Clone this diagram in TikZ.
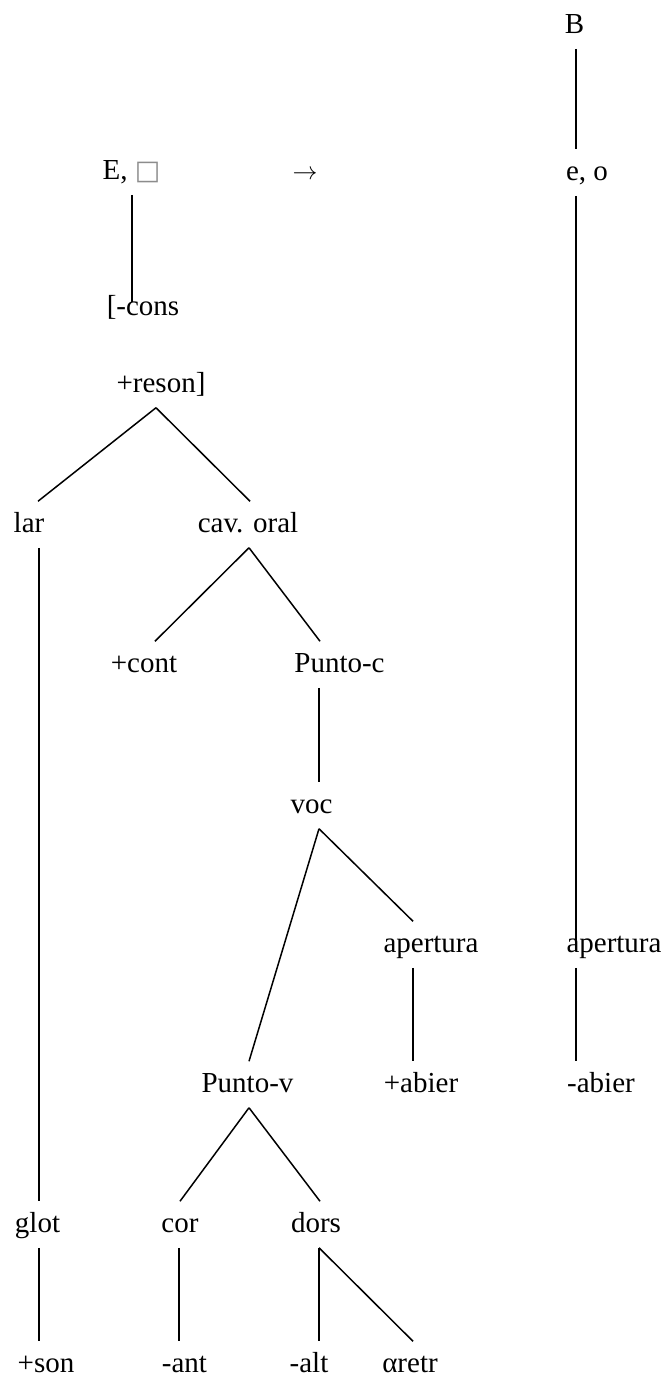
\documentclass[tikz,border=0pt]{standalone}
\usepackage{fontspec}
\setmainfont{Liberation Serif}
\newfontfamily\symfont{DejaVu Sans}

\begin{document}
\begin{tikzpicture}[x=1pt, y=-1pt, font=\fontsize{29}{34}\selectfont, line width=1.5pt,
  feat/.style={anchor=base, inner sep=0pt, text height=30pt, text depth=15pt}]
\useasboundingbox (0,0) rectangle (668,1377);

\node[feat] (B) at (574.5, 33) {B};
\node[feat] (EX) at (131.5, 179) {E, {\symfont\fontsize{27}{30}\selectfont\color{black!45}□}};
\node[feat] (AR) at (305, 179) {$\rightarrow$};
\node[feat] (EO) at (587, 180) {e, o};
\node[feat] (CO) at (143, 315) {[-cons};
\node[feat] (RE) at (161, 392) {+reson]};
\node[feat] (LA) at (29, 532) {lar};
\node[feat] (CV) at (248, 532) {cav. oral};
\node[feat] (CT) at (144, 672) {+cont};
\node[feat] (PC) at (339.5, 672) {Punto-c};
\node[feat] (VC) at (311.5, 813) {voc};
\node[feat] (AP) at (431, 952) {apertura};
\node[feat] (AQ) at (614, 952) {apertura};
\node[feat] (PV) at (247.5, 1092) {Punto-v};
\node[feat] (AB) at (421, 1092) {+abier};
\node[feat] (AC) at (601, 1092) {-abier};
\node[feat] (GL) at (37.5, 1232) {glot};
\node[feat] (CR) at (180, 1232) {cor};
\node[feat] (DR) at (316, 1232) {dors};
\node[feat] (SN) at (46, 1372) {+son};
\node[feat] (AN) at (184.5, 1372) {-ant};
\node[feat] (AL) at (309, 1372) {-alt};
\node[feat] (RT) at (410, 1372) {αretr};

\draw ([xshift=1.5pt]B.south) -- ([xshift=-11pt]EO.north);
\draw ([xshift=-11pt]EO.south) -- ([xshift=-38pt,yshift=12pt]AQ.base);
\draw ([xshift=-38pt]AQ.south) -- ([xshift=-25pt]AC.north);
\draw ([xshift=0.5pt]EX.south) -- ([xshift=-11pt,yshift=13pt]CO.base);
\draw ([xshift=-5pt]RE.south) -- ([xshift=9pt]LA.north);
\draw ([xshift=-5pt]RE.south) -- ([xshift=2pt]CV.north);
\draw ([xshift=10pt]LA.south) -- ([xshift=1.5pt]GL.north);
\draw ([xshift=1pt]CV.south) -- ([xshift=11pt]CT.north);
\draw ([xshift=1pt]CV.south) -- ([xshift=-19.5pt]PC.north);
\draw ([xshift=-20.5pt]PC.south) -- ([xshift=7.5pt]VC.north);
\draw ([xshift=7.5pt]VC.south) -- ([xshift=1.5pt]PV.north);
\draw ([xshift=7.5pt]VC.south) -- ([xshift=-18pt]AP.north);
\draw ([xshift=-18pt]AP.south) -- ([xshift=-8pt]AB.north);
\draw ([xshift=1.5pt]PV.south) -- (CR.north);
\draw ([xshift=1.5pt]PV.south) -- ([xshift=4pt]DR.north);
\draw ([xshift=1.5pt]GL.south) -- ([xshift=-7pt]SN.north);
\draw ([xshift=-1pt]CR.south) -- ([xshift=-5.5pt]AN.north);
\draw ([xshift=3pt]DR.south) -- ([xshift=10pt]AL.north);
\draw ([xshift=3pt]DR.south) -- ([xshift=3pt]RT.north);
\end{tikzpicture}
\end{document}
